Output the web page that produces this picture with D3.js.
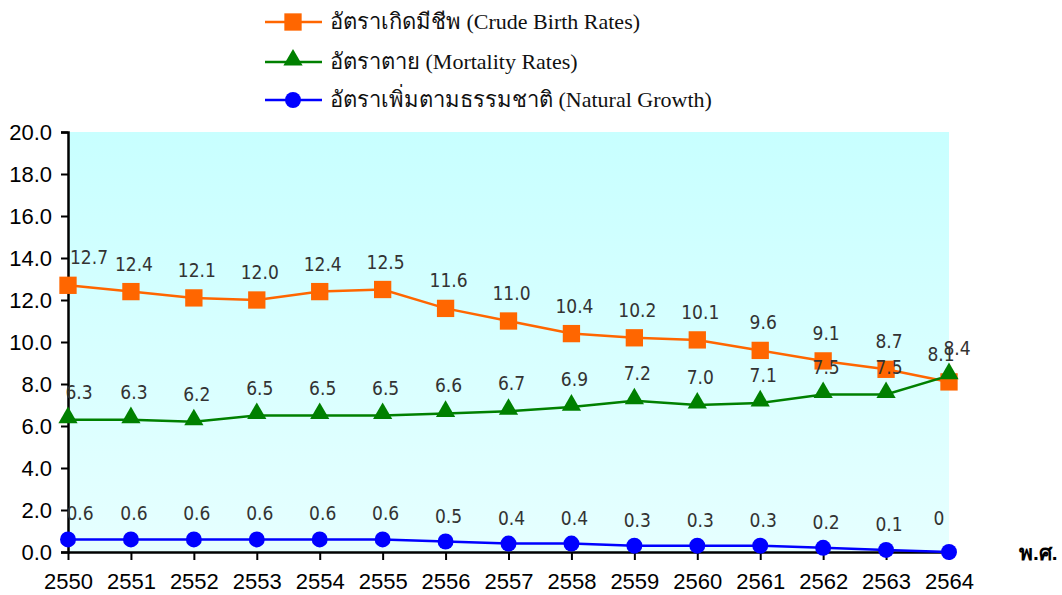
<!DOCTYPE html>
<html><head><meta charset="utf-8">
<script src="https://cdn.jsdelivr.net/npm/d3@7"></script>
<style>body{margin:0;background:#fff}svg{display:block}</style>
</head><body>
<svg id="c" width="1062" height="595"></svg>
<script>
const years = ["2550","2551","2552","2553","2554","2555","2556","2557","2558","2559","2560","2561","2562","2563","2564"];
const birthRates = [12.7,12.4,12.1,12.0,12.4,12.5,11.6,11.0,10.4,10.2,10.1,9.6,9.1,8.7,8.1];
const mortalityRates = [6.3,6.3,6.2,6.5,6.5,6.5,6.6,6.7,6.9,7.2,7.0,7.1,7.5,7.5,8.4];
const naturalGrowth = [0.6,0.6,0.6,0.6,0.6,0.6,0.5,0.4,0.4,0.3,0.3,0.3,0.2,0.1,0];
const birthLabels = ["12.7","12.4","12.1","12.0","12.4","12.5","11.6","11.0","10.4","10.2","10.1","9.6","9.1","8.7","8.1"];
const mortalityLabels = ["6.3","6.3","6.2","6.5","6.5","6.5","6.6","6.7","6.9","7.2","7.0","7.1","7.5","7.5","8.4"];
const growthLabels = ["0.6","0.6","0.6","0.6","0.6","0.6","0.5","0.4","0.4","0.3","0.3","0.3","0.2","0.1","0"];
const yTicks = [0,2,4,6,8,10,12,14,16,18,20];
const seriesNames = ["อัตราเกิดมีชีพ (Crude Birth Rates)","อัตราตาย (Mortality Rates)","อัตราเพิ่มตามธรรมชาติ (Natural Growth)"];
const xAxisTitle = "พ.ศ.";

const svg = d3.select("#c");
const L = 68, R = 949, T = 132, B = 552;
const x = d3.scalePoint().domain(years).range([L, R]);
const y = d3.scaleLinear().domain([0, 20]).range([B, T]);

const defs = svg.append("defs");
const g = defs.append("linearGradient").attr("id","bg").attr("x1",0).attr("y1",0).attr("x2",0).attr("y2",1);
g.append("stop").attr("offset","0%").attr("stop-color","#c8ffff");
g.append("stop").attr("offset","100%").attr("stop-color","#e6ffff");
svg.append("rect").attr("x",L).attr("y",T).attr("width",R-L).attr("height",B-T).attr("fill","url(#bg)");

const axisFont = "Liberation Sans, Arial, sans-serif";
const yAxis = svg.append("g").attr("transform",`translate(${L},0)`)
  .call(d3.axisLeft(y).tickValues(yTicks).tickFormat(d3.format(".1f")).tickSize(7).tickPadding(9));
yAxis.select(".domain").attr("stroke","#000").attr("stroke-width",2.5);
yAxis.selectAll(".tick line").attr("stroke","#000").attr("stroke-width",2);
yAxis.selectAll("text").attr("font-family",axisFont).attr("font-size",22).attr("fill","#000");

const xAxis = svg.append("g").attr("transform",`translate(0,${B})`)
  .call(d3.axisBottom(x).tickSize(8).tickPadding(13).tickSizeOuter(0));
xAxis.select(".domain").attr("stroke","#000").attr("stroke-width",2.5);
xAxis.selectAll(".tick line").attr("stroke","#000").attr("stroke-width",2);
xAxis.selectAll("text").attr("font-family",axisFont).attr("font-size",22).attr("fill","#000");

svg.append("text").attr("x",1019).attr("y",B+8).text(xAxisTitle)
  .attr("font-family","Liberation Sans, Noto Sans, sans-serif").attr("font-weight","bold").attr("font-size",21).attr("fill","#000");

// label nudges (Excel keeps labels inside the plot area)
const series = [
  {vals: birthRates, labels: birthLabels, color:"#ff6600", marker:"square",
   dx: i => i===0 ? 21 : i===14 ? -8 : 3, dy: () => -21},
  {vals: mortalityRates, labels: mortalityLabels, color:"#008000", marker:"triangle",
   dx: i => i===0 ? 11 : i===14 ? 8 : 3, dy: () => -21},
  {vals: naturalGrowth, labels: growthLabels, color:"#0000ff", marker:"circle",
   dx: i => i===0 ? 12 : i===14 ? -10 : 3, dy: i => i===14 ? -27 : -19}
];
const line = d3.line().x((d,i)=>x(years[i])).y(d=>y(d));
const sym = {square: d3.symbol().type(d3.symbolSquare).size(300),
             triangle: d3.symbol().type(d3.symbolTriangle).size(160),
             circle: d3.symbol().type(d3.symbolCircle).size(200)};

series.forEach(s => {
  svg.append("path").datum(s.vals).attr("d",line).attr("fill","none").attr("stroke",s.color).attr("stroke-width",2.5);
});
series.forEach(s => {
  svg.append("g").selectAll("path").data(s.vals).join("path")
    .attr("d", sym[s.marker]())
    .attr("transform",(d,i)=>`translate(${x(years[i])},${y(d) - (s.marker==="triangle"?2:0)})`)
    .attr("fill",s.color);
});
series.forEach(s => {
  svg.append("g").selectAll("text").data(s.vals).join("text")
    .attr("x",(d,i)=>x(years[i]) + s.dx(i))
    .attr("y",(d,i)=>y(d) + s.dy(i))
    .attr("text-anchor","middle")
    .attr("font-family","DejaVu Sans Condensed, DejaVu Sans, sans-serif")
    .attr("font-size",19).attr("fill","#333")
    .text((d,i)=>s.labels[i]);
});

// legend
const lg = svg.append("g");
const ly = [22, 62, 100];
series.forEach((s,i) => {
  lg.append("line").attr("x1",265).attr("x2",322).attr("y1",ly[i]).attr("y2",ly[i]).attr("stroke",s.color).attr("stroke-width",2.5);
  lg.append("path").attr("d",sym[s.marker]()).attr("transform",`translate(293,${ly[i]-(s.marker==="triangle"?2:0)})`).attr("fill",s.color);
  lg.append("text").attr("x",330).attr("y",ly[i]+7).text(seriesNames[i])
    .attr("font-family","Liberation Serif, Times New Roman, serif").attr("font-size",22).attr("fill","#111");
});
</script>
</body></html>
